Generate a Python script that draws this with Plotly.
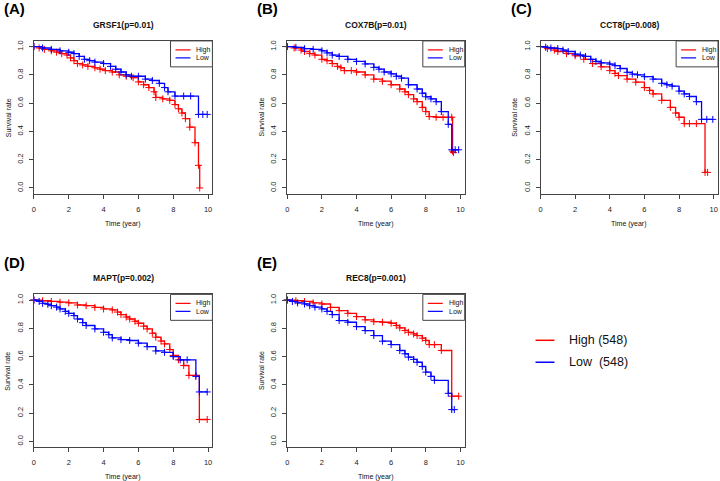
import plotly.graph_objects as go

W, H = 720, 481

GENES = ["GRSF1", "COX7B", "CCT8", "MAPT", "REC8"]
P_VALUES = ["0.01", "0.01", "0.008", "0.002", "0.001"]
PANEL_LETTERS = ["(A)", "(B)", "(C)", "(D)", "(E)"]
GROUPS = ["High", "Low"]
GROUP_SIZES = [548, 548]
X_TICKS = [0, 2, 4, 6, 8, 10]
Y_TICKS = [0.0, 0.2, 0.4, 0.6, 0.8, 1.0]

# survival curves (time in years, survival rate)
GRSF1_HIGH_T = [0, 0.3, 0.6, 1.0, 1.3, 1.6, 1.9, 2.1, 2.3, 2.5, 2.8, 3.1, 3.5, 3.8, 4.1, 4.5, 4.9,
                5.3, 5.7, 6.0, 6.3, 6.6, 6.9, 7.0, 7.4, 7.8, 8.1, 8.3, 8.5, 8.7, 8.95, 9.25, 9.45, 9.52]
GRSF1_HIGH_S = [1.0, 0.99, 0.98, 0.97, 0.96, 0.95, 0.94, 0.92, 0.90, 0.88, 0.87, 0.86, 0.85, 0.84,
                0.83, 0.82, 0.80, 0.79, 0.78, 0.75, 0.73, 0.71, 0.68, 0.64, 0.63, 0.62, 0.59, 0.56,
                0.53, 0.49, 0.43, 0.32, 0.16, 0.0]
GRSF1_LOW_T = [0, 0.5, 1.0, 1.5, 2.0, 2.3, 2.6, 2.9, 3.2, 3.5, 4.0, 4.4, 4.7, 5.0, 5.3, 5.6, 6.0,
               6.4, 6.8, 7.2, 7.5, 7.7, 8.1, 8.6, 9.0, 9.45, 9.7, 9.95]
GRSF1_LOW_S = [1.0, 0.99, 0.98, 0.97, 0.96, 0.95, 0.93, 0.91, 0.90, 0.89, 0.88, 0.86, 0.84, 0.82,
               0.80, 0.79, 0.79, 0.77, 0.76, 0.74, 0.71, 0.68, 0.65, 0.65, 0.65, 0.52, 0.52, 0.52]

COX7B_HIGH_T = [0, 0.4, 0.8, 1.0, 1.3, 1.6, 2.0, 2.3, 2.6, 2.9, 3.1, 3.3, 3.7, 4.0, 4.5, 5.0, 5.5,
                6.0, 6.5, 6.8, 7.0, 7.3, 7.5, 7.8, 8.0, 8.2, 8.6, 9.0, 9.5, 9.55, 9.6]
COX7B_HIGH_S = [1.0, 0.99, 0.975, 0.965, 0.95, 0.94, 0.91, 0.90, 0.88, 0.86, 0.85, 0.83, 0.83, 0.82,
                0.80, 0.77, 0.755, 0.73, 0.70, 0.68, 0.66, 0.63, 0.61, 0.57, 0.54, 0.505, 0.50, 0.50,
                0.50, 0.26, 0.25]
COX7B_LOW_T = [0, 0.5, 1.0, 1.5, 2.0, 2.3, 2.6, 3.0, 3.5, 4.0, 4.5, 5.0, 5.3, 5.6, 6.0, 6.3, 6.6,
               7.0, 7.5, 7.8, 8.0, 8.3, 8.6, 8.9, 9.3, 9.5, 9.7, 9.9]
COX7B_LOW_S = [1.0, 0.995, 0.985, 0.98, 0.97, 0.955, 0.94, 0.93, 0.91, 0.895, 0.877, 0.853, 0.84,
               0.82, 0.807, 0.79, 0.777, 0.73, 0.70, 0.67, 0.645, 0.63, 0.61, 0.54, 0.45, 0.27, 0.27,
               0.27]

CCT8_HIGH_T = [0, 0.4, 0.8, 1.0, 1.5, 2.0, 2.5, 3.0, 3.5, 4.0, 4.3, 4.5, 5.0, 5.5, 6.0, 6.3, 6.5,
               7.0, 7.5, 7.8, 8.0, 8.3, 8.6, 9.0, 9.5, 9.65]
CCT8_HIGH_S = [1.0, 0.985, 0.975, 0.965, 0.95, 0.935, 0.91, 0.88, 0.857, 0.83, 0.81, 0.795, 0.77,
               0.748, 0.71, 0.69, 0.665, 0.62, 0.57, 0.53, 0.50, 0.455, 0.455, 0.455, 0.11, 0.11]
CCT8_LOW_T = [0, 0.3, 0.6, 1.0, 1.3, 1.6, 2.0, 2.3, 2.6, 2.9, 3.2, 3.5, 4.0, 4.3, 4.6, 5.0, 5.3,
              5.6, 6.0, 6.5, 7.0, 7.3, 7.6, 8.0, 8.3, 8.6, 9.0, 9.3, 9.6, 9.95]
CCT8_LOW_S = [1.0, 0.995, 0.99, 0.986, 0.975, 0.965, 0.946, 0.94, 0.93, 0.91, 0.895, 0.885, 0.876,
              0.865, 0.845, 0.818, 0.805, 0.80, 0.787, 0.77, 0.74, 0.73, 0.72, 0.685, 0.665, 0.647,
              0.61, 0.485, 0.485, 0.485]

MAPT_HIGH_T = [0, 0.5, 1.0, 1.5, 2.0, 2.5, 3.0, 3.5, 4.0, 4.5, 4.8, 5.0, 5.3, 5.5, 5.8, 6.0, 6.3,
               6.5, 6.8, 7.0, 7.3, 7.5, 7.8, 8.0, 8.3, 8.6, 8.9, 9.3, 9.5, 9.95]
MAPT_HIGH_S = [1.0, 0.995, 0.99, 0.985, 0.98, 0.965, 0.96, 0.948, 0.937, 0.93, 0.915, 0.897, 0.88,
               0.866, 0.85, 0.836, 0.815, 0.796, 0.765, 0.737, 0.71, 0.69, 0.65, 0.608, 0.577, 0.537,
               0.467, 0.467, 0.155, 0.155]
MAPT_LOW_T = [0, 0.3, 0.5, 0.8, 1.0, 1.3, 1.5, 1.8, 2.0, 2.3, 2.5, 2.8, 3.0, 3.5, 4.0, 4.3, 4.5,
              5.0, 5.5, 6.0, 6.5, 7.0, 7.5, 8.0, 8.4, 8.8, 9.3, 9.5, 9.95]
MAPT_LOW_S = [1.0, 0.99, 0.977, 0.97, 0.96, 0.95, 0.937, 0.92, 0.906, 0.89, 0.866, 0.84, 0.82,
              0.796, 0.772, 0.755, 0.732, 0.72, 0.714, 0.695, 0.67, 0.64, 0.63, 0.60, 0.577, 0.577,
              0.46, 0.35, 0.35]

REC8_HIGH_T = [0, 0.5, 1.0, 1.5, 2.0, 2.5, 3.0, 3.5, 4.0, 4.5, 5.0, 5.5, 6.0, 6.3, 6.5, 6.8, 7.0,
               7.3, 7.5, 7.8, 8.0, 8.2, 8.5, 8.9, 9.5, 9.9]
REC8_HIGH_S = [1.0, 0.995, 0.99, 0.98, 0.972, 0.948, 0.925, 0.906, 0.883, 0.86, 0.847, 0.843, 0.836,
               0.82, 0.803, 0.785, 0.772, 0.76, 0.749, 0.73, 0.714, 0.685, 0.685, 0.643, 0.32, 0.32]
REC8_LOW_T = [0, 0.3, 0.6, 1.0, 1.3, 1.6, 2.0, 2.3, 2.6, 3.0, 3.5, 4.0, 4.5, 5.0, 5.5, 6.0, 6.5,
              6.8, 7.0, 7.3, 7.5, 7.8, 8.0, 8.3, 8.5, 9.3, 9.5, 9.65]
REC8_LOW_S = [1.0, 0.99, 0.98, 0.972, 0.96, 0.95, 0.937, 0.92, 0.897, 0.855, 0.843, 0.812, 0.784,
              0.749, 0.709, 0.685, 0.643, 0.62, 0.596, 0.58, 0.56, 0.53, 0.49, 0.46, 0.432, 0.34,
              0.225, 0.225]

CURVES = [
    ((GRSF1_HIGH_T, GRSF1_HIGH_S), (GRSF1_LOW_T, GRSF1_LOW_S)),
    ((COX7B_HIGH_T, COX7B_HIGH_S), (COX7B_LOW_T, COX7B_LOW_S)),
    ((CCT8_HIGH_T, CCT8_HIGH_S), (CCT8_LOW_T, CCT8_LOW_S)),
    ((MAPT_HIGH_T, MAPT_HIGH_S), (MAPT_LOW_T, MAPT_LOW_S)),
    ((REC8_HIGH_T, REC8_HIGH_S), (REC8_LOW_T, REC8_LOW_S)),
]

COLORS = ["#ff0000", "#0000ff"]
FONT = "Arial, Liberation Sans, sans-serif"

# plot boxes in pixels: left, top, right, bottom
BOXES = [
    (32, 40, 211, 193),
    (286, 40, 464, 193),
    (540, 40, 718, 193),
    (32, 294, 211, 447),
    (286, 294, 464, 447),
]


def fx(x):
    return x / W


def fy(y):
    return 1 - y / H


def note(text, x, y, size, **kw):
    d = dict(text=text, x=fx(x), y=fy(y), xref="paper", yref="paper",
             xanchor="center", yanchor="middle", showarrow=False,
             font=dict(family=FONT, size=size, color="#111"))
    d.update(kw)
    return d


fig = go.Figure()
shapes = []
annotations = []

for n, (box, curves) in enumerate(zip(BOXES, CURVES)):
    sfx = "" if n == 0 else str(n + 1)
    left, top, right, bottom = box

    for (t, s), color, grp in zip(curves, COLORS, GROUPS):
        fig.add_trace(go.Scatter(
            x=t, y=s, mode="lines+markers",
            line=dict(color=color, width=1.3, shape="hv"),
            marker=dict(symbol="cross-thin", size=5, line=dict(color=color, width=1)),
            name=grp, showlegend=False, cliponaxis=False,
            xaxis="x" + sfx, yaxis="y" + sfx,
        ))

    axis_common = dict(
        showline=True, mirror=True, linecolor="#444", linewidth=1,
        ticks="outside", ticklen=4, tickcolor="#444", tickwidth=1,
        showgrid=False, zeroline=False,
        tickfont=dict(family=FONT, size=7.5, color="#222"),
    )
    fig.layout["xaxis" + sfx] = dict(
        axis_common, domain=[fx(left), fx(right)], range=[0, 10.25],
        tickvals=X_TICKS, anchor="y" + sfx, ticklabelstandoff=4,
    )
    fig.layout["yaxis" + sfx] = dict(
        axis_common, domain=[fy(bottom), fy(top)], range=[-0.04, 1.04],
        tickvals=Y_TICKS, tickformat=".1f", tickangle=-90, anchor="x" + sfx,
        ticklabelstandoff=3,
    )

    cx = (left + right) / 2
    annotations.append(note("<b>%s(p=%s)</b>" % (GENES[n], P_VALUES[n]), cx, top - 16, 8.5))
    annotations.append(note("<b>%s</b>" % PANEL_LETTERS[n], left - 32, top - 32, 15,
                            xanchor="left", font=dict(family=FONT, size=15, color="#000")))
    annotations.append(note("Time (year)", cx, bottom + 30, 7))
    annotations.append(note("Survival rate", left - 26, (top + bottom) / 2, 7, textangle=-90))

    # legend inside the panel
    shapes.append(dict(
        type="rect", xref="paper", yref="paper",
        x0=fx(right - 42), x1=fx(right), y0=fy(top + 26), y1=fy(top),
        line=dict(color="#444", width=1), fillcolor="white",
    ))
    for k, (grp, color) in enumerate(zip(GROUPS, COLORS)):
        yy = top + 9 + 8 * k
        shapes.append(dict(
            type="line", xref="paper", yref="paper",
            x0=fx(right - 37), x1=fx(right - 22), y0=fy(yy), y1=fy(yy),
            line=dict(color=color, width=1.2),
        ))
        annotations.append(note(grp, right - 18, yy, 7, xanchor="left"))

# shared legend at the bottom right
for k, (grp, size, color) in enumerate(zip(GROUPS, GROUP_SIZES, COLORS)):
    yy = 340 + 22 * k
    shapes.append(dict(
        type="line", xref="paper", yref="paper",
        x0=fx(535), x1=fx(554), y0=fy(yy), y1=fy(yy),
        line=dict(color=color, width=1.5),
    ))
    label = "%s (%d)" % (grp, size) if grp == "High" else "%s&nbsp; (%d)" % (grp, size)
    annotations.append(note(label, 567, yy, 12.5, xanchor="left"))

fig.update_layout(
    width=W, height=H,
    margin=dict(l=0, r=0, t=0, b=0),
    paper_bgcolor="white", plot_bgcolor="white",
    showlegend=False,
    shapes=shapes, annotations=annotations,
)

# the page's default body margin would push the 720px figure out of the window
fig.write_html("out.html", config={"displayModeBar": False},
               post_script="document.body.style.margin = '0';")
